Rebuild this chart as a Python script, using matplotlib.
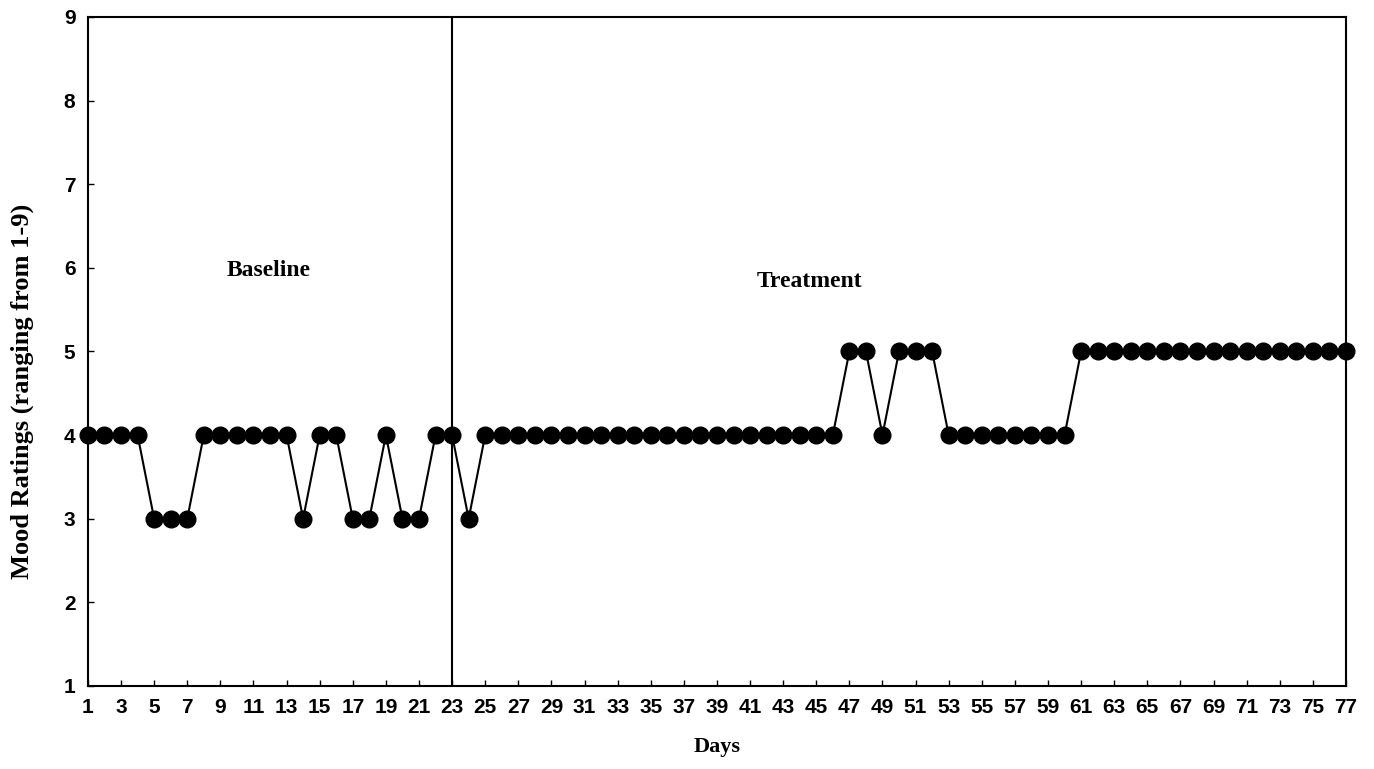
import matplotlib.pyplot as plt

## data
days = list(range(1, 78))
mood = [4, 4, 4, 4, 3, 3, 3, 4, 4, 4, 4, 4, 4, 3, 4, 4, 3, 3, 4, 3, 3, 4, 4,
        3] + [4] * 22 + [5, 5, 4, 5, 5, 5] + [4] * 8 + [5] * 17
phase_change = 23
x_ticks = list(range(1, 78, 2))
y_ticks = list(range(1, 10))

fig = plt.figure(figsize=(13.74, 7.69), dpi=100)
ax = fig.add_axes([0.064, 0.108, 0.9156, 0.870])

ax.plot(days, mood, color='black', linewidth=1.5, marker='o',
        markersize=12, markerfacecolor='black', markeredgecolor='black',
        clip_on=False, zorder=3)
ax.axvline(phase_change, color='black', linewidth=1.5)

ax.set_xlim(1, 77)
ax.set_ylim(1, 9)
ax.set_xticks(x_ticks)
ax.set_yticks(y_ticks)

tick_font = {'family': 'Liberation Sans', 'weight': 'bold', 'size': 15}
ax.set_xticklabels([str(t) for t in x_ticks], fontdict=tick_font)
ax.set_yticklabels([str(t) for t in y_ticks], fontdict=tick_font)
ax.tick_params(axis='x', direction='in', length=4, width=1, pad=9)
ax.tick_params(axis='y', direction='in', length=4, width=1, pad=9)

for s in ax.spines.values():
    s.set_linewidth(1.5)

ax.set_xlabel('Days', family='Liberation Serif', weight='bold', size=16,
              labelpad=14)
ax.set_ylabel('Mood Ratings (ranging from 1-9)', family='Liberation Serif',
              weight='bold', size=19)
ax.yaxis.set_label_coords(-0.043, 0.44)

## phase labels
ax.text(11.9, 5.97, 'Baseline', ha='center', va='center',
        family='Liberation Serif', weight='bold', size=17)
ax.text(44.6, 5.84, 'Treatment', ha='center', va='center',
        family='Liberation Serif', weight='bold', size=17)

fig.savefig('out.png', dpi=100)
